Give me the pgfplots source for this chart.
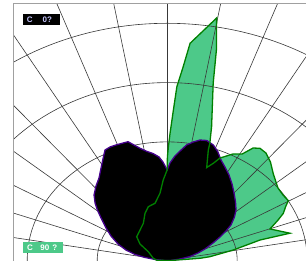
\documentclass[border=0pt]{standalone}
\usepackage{pgfplots}
\usepackage{pgfplotstable}
\pgfplotsset{compat=1.18}
\usepackage{fontspec}
\setmainfont{Liberation Sans}
\definecolor{cgreen}{RGB}{77,201,137}
\definecolor{cline}{RGB}{0,128,0}
\definecolor{cpurple}{RGB}{70,0,140}
\definecolor{clav}{RGB}{200,200,255}
\definecolor{cframe}{RGB}{160,160,160}
% C0 plane: angle (deg, 90 = straight up), intensity (ring units)
\pgfplotstableread{
a r
180 0
180 0.05
174.4 0.175
170.9 0.321
167.6 0.471
163.3 0.615
158.4 0.756
152.8 0.903
147.9 1.032
142.8 1.187
139.5 1.311
136.7 1.416
133.4 1.521
129.0 1.616
125.0 1.698
121.2 1.824
118.2 1.942
115.5 2.064
113.1 2.081
110.6 2.081
107.7 2.079
105.6 2.080
104.0 2.016
101.6 1.932
98.9 1.861
96.4 1.815
93.8 1.749
92.1 1.662
90 1.53
88.6 1.645
86.4 1.766
84.3 1.856
81.9 1.968
79.5 2.032
77.0 2.085
74.4 2.101
71.3 2.056
68.4 1.969
65.6 1.861
62.4 1.780
58.5 1.691
54.3 1.588
50.0 1.485
45.3 1.388
40.9 1.301
37.4 1.210
33.3 1.090
30.6 0.976
27.7 0.852
24.3 0.718
19.8 0.574
16.0 0.458
11.6 0.333
7.8 0.185
0 0.05
0 0
}\cZero
% C90 plane
\pgfplotstableread{
a r
180 0
178 0.15
169.5 0.202
151.3 0.308
144.4 0.478
137.4 0.592
118.5 0.714
111.7 0.857
106.6 0.946
100.2 0.981
95.2 1.138
92.4 1.359
90 1.53
89.9 1.745
89.5 1.914
88.9 2.150
88.0 2.540
87.3 2.934
86.0 3.276
84.9 3.677
80.2 4.150
78.8 3.619
77.6 3.060
74.3 2.344
72.9 2.073
72.5 1.953
70.2 1.666
68.1 1.767
66.4 1.886
62.4 2.027
59.2 2.090
57.1 2.259
55.0 2.310
52.1 2.297
48.4 2.222
43.9 2.104
37.7 2.000
33.7 1.989
30.3 2.004
28.1 1.916
25.6 1.840
23.3 1.724
19.9 1.562
14.7 1.813
14.6 1.370
10.6 0.960
6.0 0.614
4.5 0.470
0 0.05
0 0
}\cNinety
\begin{document}
\begin{tikzpicture}
\path[use as bounding box] (0pt,0pt) rectangle (306pt,261pt);
\begin{axis}[
  at={(13pt,0pt)}, anchor=south west,
  scale only axis, width=293pt, height=257pt,
  xmin=-2.2029, xmax=1.9829, ymin=-0.0084, ymax=4.3255,
  axis lines=none, ticks=none, clip=true,
]
\addplot[data cs=polar, fill=cgreen, draw=none] table[x=a, y=r] {\cNinety};
% grid
\pgfplotsinvokeforeach{1,2,3,4}{
  \draw[black!78, line width=0.6pt] (axis cs:0,0) ellipse [x radius=#1, y radius=#1];
}
\pgfplotsinvokeforeach{-80,-70,-60,-50,-40,-30,-20,-10,0,10,20,30,40,50,60,70,80}{
  \draw[black!78, line width=0.6pt] (axis cs:0,0) -- (axis cs:{6*sin(#1)},{6*cos(#1)});
}
\addplot[data cs=polar, fill=black, draw=cpurple, line width=1.3pt] table[x=a, y=r] {\cZero};
\addplot[data cs=polar, draw=cline, line width=1.3pt] table[x=a, y=r] {\cNinety};
\end{axis}
\draw[cframe, line width=1pt] (13pt,0pt) -- (13pt,257pt) -- (306pt,257pt);
\node[fill=black, text=clav, inner sep=0pt, minimum height=11pt, anchor=north west,
      font=\fontsize{8}{9}\selectfont\bfseries] at (22.7pt,247pt)
      {\makebox[37.3pt][l]{\hspace{4pt}C\hspace{10pt}0?}};
\node[fill=cgreen, text=white, inner sep=0pt, minimum height=11pt, anchor=north west,
      font=\fontsize{8}{9}\selectfont\bfseries] at (22.7pt,19pt)
      {\makebox[40pt][l]{\hspace{4.3pt}C\hspace{7.5pt}90\hspace{3pt}?}};
\end{tikzpicture}
\end{document}
